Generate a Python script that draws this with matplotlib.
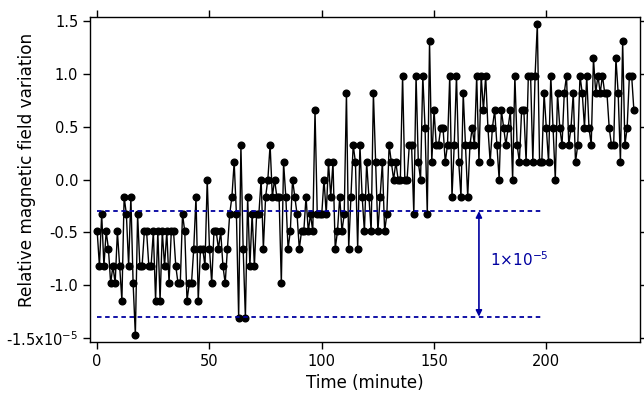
import matplotlib
matplotlib.use("Agg")
import matplotlib.pyplot as plt
import numpy as np

# --- DATA (levels, one sample per minute) ---
STEP = 0.164  # quantisation step of the readout (x1e-5)
levels = [
    -3, -5, -2, -5, -3, -4, -6, -5, -6, -3, -5, -7, -1, -2, -5, -1, -6, -9, -2, -5,
    -5, -3, -3, -5, -5, -3, -7, -3, -7, -3, -5, -3, -6, -3, -3, -5, -6, -6, -2, -3,
    -7, -6, -6, -4, -1, -7, -4, -4, -5, 0, -4, -6, -3, -3, -4, -3, -5, -6, -4, -2,
    -1, 1, -2, -8, 2, -4, -8, -1, -5, -2, -5, -2, -2, 0, -4, -1, 0, 2, -1, 0,
    -1, -1, -6, 1, -1, -4, -3, 0, -1, -2, -4, -3, -3, -1, -3, -2, -3, 4, -2, -2,
    -2, 0, -2, 1, -1, 1, -4, -3, -1, -3, -2, 5, -4, -1, 2, 1, -4, 2, -1, -3,
    1, -1, -3, 5, 1, -3, -1, 1, -3, -2, 2, 1, 0, 1, 0, 0, 6, 0, 0, 2,
    2, -2, 6, 1, 0, 6, 3, -2, 8, 1, 4, 2, 2, 3, 3, 1, 2, 6, -1, 2,
    6, 1, -1, 5, 2, -1, 2, 3, 2, 6, 1, 6, 4, 6, 3, 1, 3, 4, 2, 0,
    4, 3, 2, 3, 4, 0, 6, 2, 1, 4, 4, 1, 6, 6, 1, 6, 9, 1, 1, 5,
    3, 1, 6, 3, 0, 5, 3, 2, 5, 6, 2, 3, 5, 1, 2, 6, 5, 3, 6, 3,
    2, 7, 5, 6, 5, 6, 5, 5, 3, 2, 2, 7, 5, 1, 8, 2, 3, 6, 6, 4,
]
time_min = np.arange(len(levels))
variation = np.array(levels) * STEP

# reference band
band_low = -1.3
band_high = -0.3
band_end = 198
arrow_x = 170

plt.rcParams['font.family'] = ['DejaVu Sans']

fig = plt.figure(figsize=(6.44, 3.94), dpi=100)
ax = fig.add_axes([90 / 644, 1 - 342 / 394, 549.5 / 644, 325.5 / 394])

ax.plot(time_min, variation, color='black', linewidth=1.0,
        marker='o', markersize=4.8, markerfacecolor='black', markeredgecolor='black')

navy = '#0000a0'
ax.hlines([band_high, band_low], 0, band_end, colors=navy,
          linestyles=(0, (2.5, 2)), linewidth=1.3)
ax.annotate('', xy=(arrow_x, band_low), xytext=(arrow_x, band_high),
            arrowprops=dict(arrowstyle='<|-|>', color=navy, lw=1.2,
                            shrinkA=0, shrinkB=0, mutation_scale=9))
ax.text(arrow_x + 5, -0.76, r'1$\times$10$^{-5}$', color=navy, fontsize=11,
        va='center', ha='left')

ax.set_xlim(-3.2, 241.5)
ax.set_ylim(-1.54, 1.545)
ax.set_xticks([0, 50, 100, 150, 200])
ax.set_yticks([-1.5, -1.0, -0.5, 0.0, 0.5, 1.0, 1.5])
ax.set_yticklabels([r'-1.5x10$^{-5}$', '-1.0', '-0.5', '0.0', '0.5', '1.0', '1.5'])
ax.tick_params(direction='out', length=5, width=1, labelsize=10.5,
               top=True, right=True, colors='black')
for s in ax.spines.values():
    s.set_linewidth(1)

ax.set_xlabel('Time (minute)', fontsize=12, labelpad=4)
ax.set_ylabel('Relative magnetic field variation', fontsize=12.2)
ax.yaxis.set_label_coords(-0.098, 0.528)

fig.savefig('out.png', dpi=100)
